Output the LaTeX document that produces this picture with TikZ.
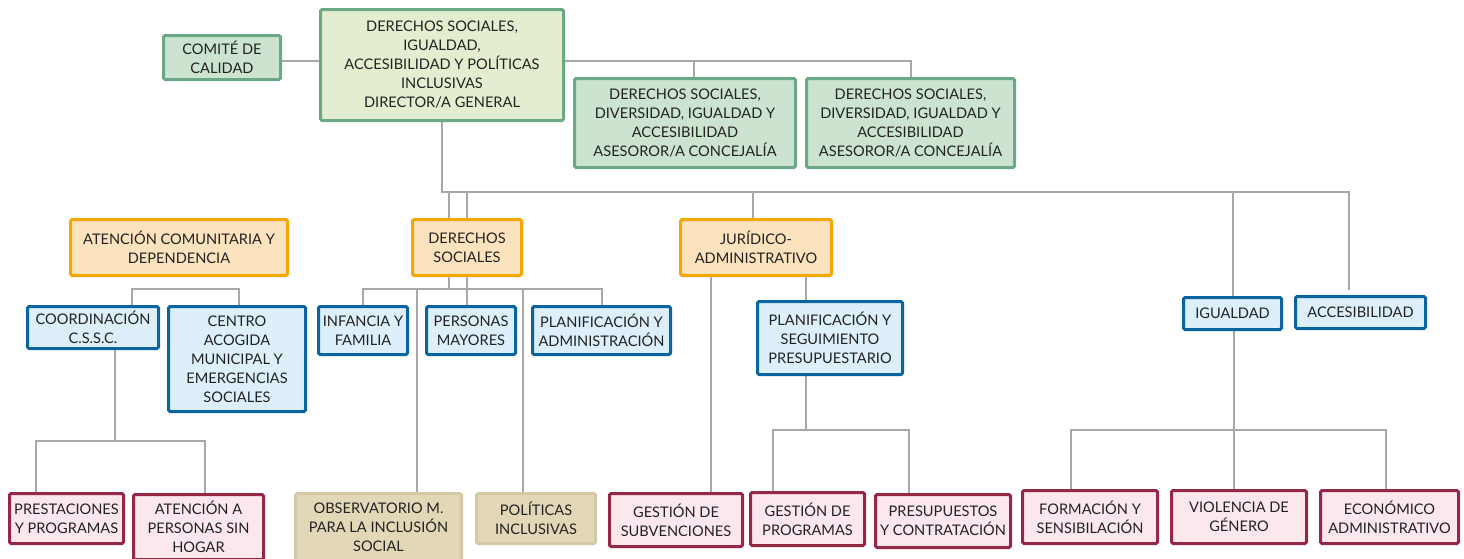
\documentclass[tikz,border=0pt]{standalone}
\usepackage{fontspec}
\setmainfont{Lato}
\usetikzlibrary{backgrounds}
\definecolor{gbord}{HTML}{6BA886}
\definecolor{gfill}{HTML}{CCE4CF}
\definecolor{dfill}{HTML}{E3EDCF}
\definecolor{obord}{HTML}{F6A800}
\definecolor{ofill}{HTML}{FDE3BD}
\definecolor{bbord}{HTML}{0A64A0}
\definecolor{bfill}{HTML}{DDEFFB}
\definecolor{mbord}{HTML}{962847}
\definecolor{mfill}{HTML}{FCE8EC}
\definecolor{tbord}{HTML}{D5CAA6}
\definecolor{tfill}{HTML}{E2D8B8}
\definecolor{lgray}{HTML}{A8A8A8}
\definecolor{txt}{HTML}{222222}
\tikzset{
  box/.style={line width=3pt, rounded corners=1.5pt, align=center, inner sep=0pt, text=txt,
    font=\fontsize{14.6}{19}\selectfont},
  gbox/.style={box, draw=gbord, fill=gfill},
  dbox/.style={box, draw=gbord, fill=dfill},
  obox/.style={box, draw=obord, fill=ofill},
  bbox/.style={box, draw=bbord, fill=bfill},
  mbox/.style={box, draw=mbord, fill=mfill},
  tbox/.style={box, draw=tbord, fill=tfill},
  conn/.style={draw=lgray, line width=2pt},
  sz/.style 2 args={minimum width=#1, minimum height=#2},
}
\begin{document}
\begin{tikzpicture}[x=1pt,y=-1pt]
\useasboundingbox (0,0) rectangle (1464,558);
% nodes
\node[gbox, sz={117pt}{44pt}] (comite) at (222,57.5) {COMITÉ DE\\CALIDAD};
\node[dbox, sz={243pt}{111pt}] (director) at (442,65) {DERECHOS SOCIALES,\\IGUALDAD,\\ACCESIBILIDAD Y POLÍTICAS\\INCLUSIVAS\\DIRECTOR/A GENERAL};
\node[gbox, sz={221pt}{89pt}] (ases1) at (685,123) {DERECHOS SOCIALES,\\DIVERSIDAD, IGUALDAD Y\\ACCESIBILIDAD\\ASESOROR/A CONCEJALÍA};
\node[gbox, sz={208pt}{89pt}] (ases2) at (910.5,123) {DERECHOS SOCIALES,\\DIVERSIDAD, IGUALDAD Y\\ACCESIBILIDAD\\ASESOROR/A CONCEJALÍA};
\node[obox, sz={217pt}{56pt}] (atc) at (179,247.5) {ATENCIÓN COMUNITARIA Y\\DEPENDENCIA};
\node[obox, sz={109pt}{56pt}] (ds) at (467,247.5) {DERECHOS\\SOCIALES};
\node[obox, sz={151pt}{56pt}] (jur) at (756,247.5) {JURÍDICO-\\ADMINISTRATIVO};
\node[bbox, sz={131pt}{42pt}] (coord) at (93,327.5) {COORDINACIÓN\\C.S.S.C.};
\node[bbox, sz={137pt}{105pt}] (centro) at (237,359) {CENTRO\\ACOGIDA\\MUNICIPAL Y\\EMERGENCIAS\\SOCIALES};
\node[bbox, sz={89pt}{48pt}] (inf) at (363,330.5) {INFANCIA Y\\FAMILIA};
\node[bbox, sz={89pt}{48pt}] (pm) at (471,330.5) {PERSONAS\\MAYORES};
\node[bbox, sz={138pt}{48pt}] (pa) at (601.5,330.5) {PLANIFICACIÓN Y\\ADMINISTRACIÓN};
\node[bbox, sz={145pt}{73pt}] (pseg) at (830,338) {PLANIFICACIÓN Y\\SEGUIMIENTO\\PRESUPUESTARIO};
\node[bbox, sz={98pt}{32pt}] (igu) at (1232.5,313.5) {IGUALDAD};
\node[bbox, sz={130pt}{32pt}] (acc) at (1360.5,312.5) {ACCESIBILIDAD};
\node[mbox, sz={114pt}{50pt}] (prest) at (66.5,518.5) {PRESTACIONES\\Y PROGRAMAS};
\node[mbox, sz={130pt}{65pt}] (sinh) at (198.5,527) {ATENCIÓN A\\PERSONAS SIN\\HOGAR};
\node[tbox, sz={166pt}{68pt}] (obs) at (378.5,527.5) {OBSERVATORIO M.\\PARA LA INCLUSIÓN\\SOCIAL};
\node[tbox, sz={119pt}{50pt}] (pol) at (536,518.5) {POLÍTICAS\\INCLUSIVAS};
\node[mbox, sz={133pt}{53pt}] (gsub) at (676,520) {GESTIÓN DE\\SUBVENCIONES};
\node[mbox, sz={114pt}{53pt}] (gprog) at (807.5,519) {GESTIÓN DE\\PROGRAMAS};
\node[mbox, sz={135pt}{53pt}] (presu) at (943,521) {PRESUPUESTOS\\Y CONTRATACIÓN};
\node[mbox, sz={135pt}{53pt}] (form) at (1090,517) {FORMACIÓN Y\\SENSIBILACIÓN};
\node[mbox, sz={135pt}{53pt}] (viol) at (1239,517) {VIOLENCIA DE\\GÉNERO};
\node[mbox, sz={138pt}{53pt}] (econ) at (1389.5,517) {ECONÓMICO\\ADMINISTRATIVO};
% junction coordinates
\coordinate (ytop) at (0,61);
\coordinate (t1) at (694,61);
\coordinate (busL) at (442,192);
\coordinate (busR) at (1349,192);
\coordinate (dsA) at (449,192);
\coordinate (jurT) at (753,192);
\coordinate (accT) at (1349,290);
\coordinate (b2) at (449,289);
\coordinate (obsT) at (417,289);
\coordinate (polT) at (523,289);
\coordinate (atcL) at (132,289);
\coordinate (atcR) at (239,289);
\coordinate (coordB) at (115,441);
\coordinate (jurL) at (711,0);
\coordinate (jurR) at (806,0);
\coordinate (psegB) at (806,430);
\coordinate (iguB) at (1234,430);
\coordinate (xA) at (36,0);
\coordinate (xB) at (205,0);
\coordinate (xC) at (773,0);
\coordinate (xD) at (909,0);
\coordinate (xE) at (1071,0);
\coordinate (xF) at (1386,0);
% connectors
\begin{pgfonlayer}{background}
\fill[white] (0,0) rectangle (1464,558);
\draw[conn] (comite.east |- ytop) -- (director.west |- ytop);
\draw[conn] (director.east |- ytop) -| (ases2.north);
\draw[conn] (t1) -- (t1 |- ases1.north);
\draw[conn] (director.south) -- (busL) -- (busR) -- (accT);
\draw[conn] (dsA) -- (dsA |- ds.north);
\draw[conn] (ds.north |- busL) -- (ds.north);
\draw[conn] (ds.south) -- (ds.south |- pm.north);
\draw[conn] (b2 |- ds.south) -- (b2);
\draw[conn] (inf.north) |- (b2) -| (pa.north);
\draw[conn] (obsT) -- (obsT |- obs.north);
\draw[conn] (polT) -- (polT |- pol.north);
\draw[conn] (atcL |- coord.north) -- (atcL) -- (atcR) -- (atcR |- centro.north);
\draw[conn] (coordB |- coord.south) -- (coordB);
\draw[conn] (xA |- prest.north) |- (coordB) -| (xB |- sinh.north);
\draw[conn] (jurT) -- (jurT |- jur.north);
\draw[conn] (jurL |- jur.south) -- (jurL |- gsub.north);
\draw[conn] (jurR |- jur.south) -- (jurR |- pseg.north);
\draw[conn] (psegB |- pseg.south) -- (psegB);
\draw[conn] (xC |- gprog.north) |- (psegB) -| (xD |- presu.north);
\draw[conn] (igu.north |- busL) -- (igu.north);
\draw[conn] (iguB |- igu.south) -- (iguB);
\draw[conn] (xE |- form.north) |- (iguB) -| (xF |- econ.north);
\draw[conn] (iguB) -- (iguB |- viol.north);
\end{pgfonlayer}
\end{tikzpicture}
\end{document}
